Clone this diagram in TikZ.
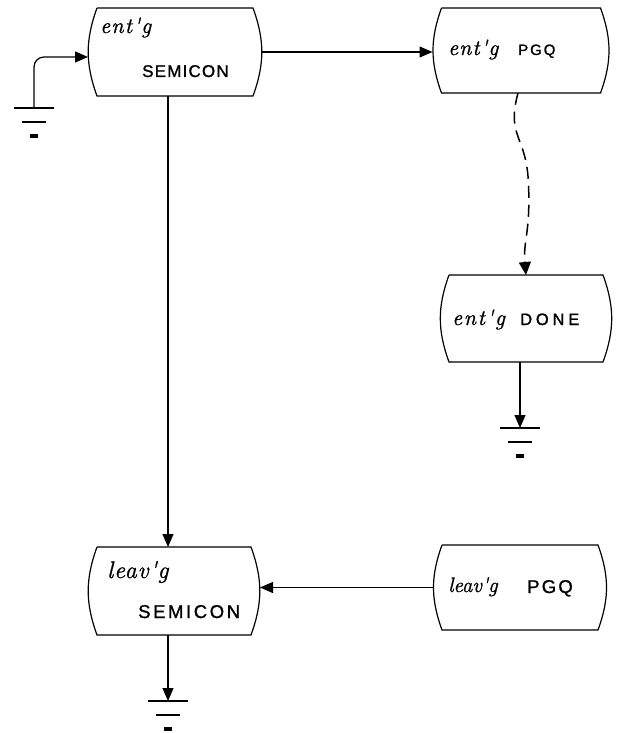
\documentclass[tikz,border=0pt]{standalone}
\usepackage{fontspec}
\usetikzlibrary{arrows.meta,calc}
\newfontfamily\hcaps[FakeBold=1.2]{Liberation Sans}
\newfontfamily\hlow[FakeBold=1.2]{Latin Modern Roman}
\tikzset{
  box/.style={inner sep=0pt, outer sep=0pt},
  barrel/.style={line width=1.2pt},
  conn/.style={line width=1.2pt},
  tip/.style={-{Triangle[length=13pt,width=11pt]}},
  gbar/.style={line width=2.8pt},
  lowtxt/.style={anchor=base west, inner sep=0pt},
  captxt/.style={anchor=base west, inner sep=0pt},
}
\newcommand\barrelshape[1]{%
  \draw[barrel] ($(#1.north west)+(9,0)$) -- ($(#1.north east)+(-9,0)$)
    to[out=-70,in=70] ($(#1.south east)+(-9,0)$)
    -- ($(#1.south west)+(9,0)$)
    to[out=110,in=-110] ($(#1.north west)+(9,0)$);}
\newcommand\groundat[1]{%
  \draw[gbar] ($(#1)+(-20,0)$) -- ($(#1)+(20,0)$);
  \draw[gbar] ($(#1)+(-12,-14)$) -- ($(#1)+(12,-14)$);
  \draw[gbar,line width=3.4pt] ($(#1)+(-4,-28)$) -- ($(#1)+(4,-28)$);}
\begin{document}
\begin{tikzpicture}[x=1pt,y=1pt]
\useasboundingbox (0,0) rectangle (624,-733);
% boxes
\node[box, minimum width=174pt, minimum height=88pt] (b1) at (175,-52) {};
\node[box, minimum width=177pt, minimum height=85pt] (b2) at (521,-50.5) {};
\node[box, minimum width=172pt, minimum height=87pt] (b3) at (526,-318.5) {};
\node[box, minimum width=172pt, minimum height=88pt] (b4) at (174,-591) {};
\node[box, minimum width=174pt, minimum height=85pt] (b5) at (520,-587.5) {};
\barrelshape{b1}
\barrelshape{b2}
\barrelshape{b3}
\barrelshape{b4}
\barrelshape{b5}
% texts
\node[lowtxt, font=\hlow\itshape\addfontfeatures{LetterSpace=6}\fontsize{22}{22}\selectfont] (t1a) at (100,-33) {ent'g};
\node[captxt, font=\hcaps\addfontfeatures{LetterSpace=7}\fontsize{17}{17}\selectfont] (t1b) at (142,-77) {SEMICON};
\node[lowtxt, font=\hlow\itshape\addfontfeatures{LetterSpace=5}\fontsize{22}{22}\selectfont] (t2a) at (448,-55) {ent'g};
\node[captxt, font=\hcaps\addfontfeatures{LetterSpace=13}\fontsize{15}{15}\selectfont] (t2b) at (518,-55) {PGQ};
\node[lowtxt, font=\hlow\itshape\addfontfeatures{LetterSpace=8}\fontsize{22}{22}\selectfont] (t3a) at (452,-325) {ent'g};
\node[captxt, font=\hcaps\addfontfeatures{LetterSpace=23}\fontsize{16.5}{16.5}\selectfont] (t3b) at (520,-325) {DONE};
\node[lowtxt, font=\hlow\itshape\addfontfeatures{LetterSpace=4}\fontsize{24}{24}\selectfont] (t4a) at (107,-578) {leav'g};
\node[captxt, font=\hcaps\addfontfeatures{LetterSpace=14}\fontsize{18.5}{18.5}\selectfont] (t4b) at (138,-618) {SEMICON};
\node[lowtxt, font=\hlow\itshape\fontsize{21}{21}\selectfont] (t5a) at (448,-592) {leav'g};
\node[captxt, font=\hcaps\addfontfeatures{LetterSpace=12}\fontsize{18.5}{18.5}\selectfont] (t5b) at (527,-593) {PGQ};
% ground coordinates
\coordinate (g1) at (34,-108);
\coordinate (g2) at (520,-428);
\coordinate (g3) at (168,-701);
% connectors
\draw[conn,tip] (b1.east) -- (b1.east -| b2.west);
\draw[conn,tip] ([xshift=-7pt]b1.south) -- ([xshift=-6pt]b4.north);
\draw[conn,tip] (b5.west) -- (b5.west -| b4.east);
\draw[conn,tip,rounded corners=10pt] (g1) |- ([yshift=-5pt]b1.west);
\draw[conn,tip] (g2 |- b3.south) -- (g2);
\draw[conn,tip] (g3 |- b4.south) -- (g3);
\draw[conn,line width=1.5pt,dash pattern=on 12pt off 7pt,-{Triangle[length=13pt,width=12pt]}]
  ([xshift=-3pt]b2.south) .. controls +(-12,-45) and +(-2,50) ..
  ($(b2.south)!0.5!(b3.north)+(5,0)$) .. controls +(2,-50) and +(-3,35) .. (b3.north);
% grounds
\groundat{g1}
\groundat{g2}
\groundat{g3}
\end{tikzpicture}
\end{document}
